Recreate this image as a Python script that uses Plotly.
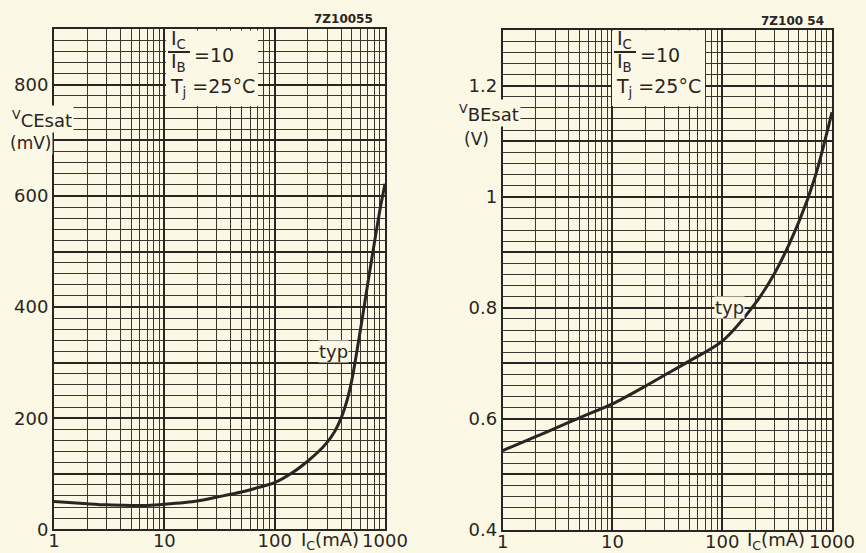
import plotly.graph_objects as go

# ---------------- data ----------------
ic_ce = [1, 2, 3, 5, 7, 10, 20, 30, 50, 70, 100, 150, 200, 250, 300, 350, 400, 450, 500, 600, 700, 800, 900, 1000]
vce_sat = [50, 46, 44, 43, 43, 45, 51, 58, 67, 75, 84, 104, 123, 140, 157, 176, 200, 230, 268, 360, 444, 515, 575, 622]

ic_be = [1, 2, 3, 5, 10, 20, 30, 50, 100, 200, 300, 500, 700, 1000]
vbe_sat = [0.543, 0.568, 0.583, 0.602, 0.627, 0.659, 0.679, 0.704, 0.740, 0.808, 0.862, 0.955, 1.035, 1.152]

x_tickvals = [1, 10, 100, 1000]
x_ticktext = ["1", "10", "100", "1000"]
x_minor = [k * 10 ** d for d in range(3) for k in range(2, 10)]

vce_tickvals = [0, 100, 200, 300, 400, 500, 600, 700, 800, 900]
vce_ticktext = ["0", "", "200", "", "400", "", "600", "", "800", ""]
vbe_tickvals = [0.4, 0.5, 0.6, 0.7, 0.8, 0.9, 1.0, 1.1, 1.2, 1.3]
vbe_ticktext = ["0.4", "", "0.6", "", "0.8", "", "1", "", "1.2", ""]

# ---------------- style ----------------
W, H = 866, 553
BG = "#fbf8e6"
INK = "#2a2522"
GRID = "#3d3732"
FONT = "DejaVu Sans"


def px(x):
    return x / W


def py(y):
    return 1 - y / H


fig = go.Figure()
fig.add_trace(go.Scatter(x=ic_ce, y=vce_sat, mode="lines", line=dict(color=INK, width=3, shape="spline", smoothing=0.8),
                         xaxis="x", yaxis="y", showlegend=False, hoverinfo="skip"))
fig.add_trace(go.Scatter(x=ic_be, y=vbe_sat, mode="lines", line=dict(color=INK, width=3, shape="spline", smoothing=0.8),
                         xaxis="x2", yaxis="y2", showlegend=False, hoverinfo="skip"))

xcommon = dict(type="log", range=[0, 3], tickmode="array", tickvals=x_tickvals, ticktext=x_ticktext,
               showgrid=True, gridcolor=INK, gridwidth=2, automargin=False, ticklabelstandoff=-6,
               minor=dict(tickmode="array", tickvals=x_minor, showgrid=True, gridcolor=GRID, gridwidth=1),
               showline=True, linecolor=INK, linewidth=2, mirror=True, ticks="", zeroline=False,
               tickfont=dict(family=FONT, size=18, color=INK), fixedrange=True)
ycommon = dict(tickmode="array", showgrid=True, gridcolor=INK, gridwidth=2, automargin=False,
               showline=True, linecolor=INK, linewidth=2, mirror=True, ticks="", zeroline=False,
               tickfont=dict(family=FONT, size=18, color=INK), fixedrange=True)

fig.update_layout(
    width=W, height=H, margin=dict(l=0, r=0, t=0, b=0),
    paper_bgcolor=BG, plot_bgcolor=BG,
    font=dict(family=FONT, color=INK),
    xaxis=dict(domain=[px(54), px(385)], anchor="y", **xcommon),
    yaxis=dict(domain=[py(529.3), py(29.3)], anchor="x", range=[0, 900],
               tickvals=vce_tickvals, ticktext=vce_ticktext,
               minor=dict(dtick=20, tick0=0, showgrid=True, gridcolor=GRID, gridwidth=1), **ycommon),
    xaxis2=dict(domain=[px(502.7), px(832)], anchor="y2", **xcommon),
    yaxis2=dict(domain=[py(530), py(30)], anchor="x2", range=[0.4, 1.3],
                tickvals=vbe_tickvals, ticktext=vbe_ticktext,
                minor=dict(dtick=0.02, tick0=0.4, showgrid=True, gridcolor=GRID, gridwidth=1), **ycommon),
)

# blank boxes behind the condition text
for x0, x1 in [(166, 258), (612, 705)]:
    fig.add_shape(type="rect", xref="paper", yref="paper", x0=px(x0), x1=px(x1), y0=py(106), y1=py(30.5),
                  fillcolor=BG, line=dict(width=0), layer="above")

anns = []


def txt(text, x, y, size=18, xanchor="center", bg=None, pad=1):
    a = dict(text=text, x=px(x), y=py(y), xref="paper", yref="paper", showarrow=False,
             xanchor=xanchor, yanchor="middle", font=dict(family=FONT, size=size, color=INK))
    if bg:
        a.update(bgcolor=bg, borderpad=pad)
    anns.append(a)


for off in [0, 446]:
    # I_C / I_B = 10, Tj = 25 °C
    txt("I<sub>C</sub>", 178 + off, 40, size=19)
    txt("I<sub>B</sub>", 178 + off, 63, size=19)
    fig.add_shape(type="line", xref="paper", yref="paper", x0=px(168 + off), x1=px(190 + off),
                  y0=py(52), y1=py(52), line=dict(color=INK, width=2), layer="above")
    txt("=10", 192 + off, 55, size=19, xanchor="left")
    txt("T<sub>j</sub> =25°C", 168 + off, 88, size=19, xanchor="left")
    # x axis title
    txt("I<sub>C</sub>(mA)", 330 + off, 541, size=18)

# drawing numbers
txt("<b>7Z10055</b>", 343, 19, size=12)
txt("<b>7Z100 54</b>", 792, 21, size=12)

# y axis titles
txt("<sup>V</sup>CEsat", 10, 119, size=18, xanchor="left", bg=BG, pad=1)
txt("(mV)", 8, 143, size=17, xanchor="left", bg=BG, pad=1)
txt("<sup>V</sup>BEsat", 457, 113, size=18, xanchor="left", bg=BG, pad=1)
txt("(V)", 462, 139, size=17, xanchor="left", bg=BG, pad=1)

# typ labels
txt("typ", 333, 351, size=18, bg=BG, pad=0)
txt("typ", 729, 307, size=18, bg=BG, pad=0)

fig.update_layout(annotations=anns)
fig.write_html("out.html", config={"displayModeBar": False},
               post_script="document.body.style.margin='0';document.body.style.overflow='hidden';"
                           "document.body.style.background='" + BG + "';")
